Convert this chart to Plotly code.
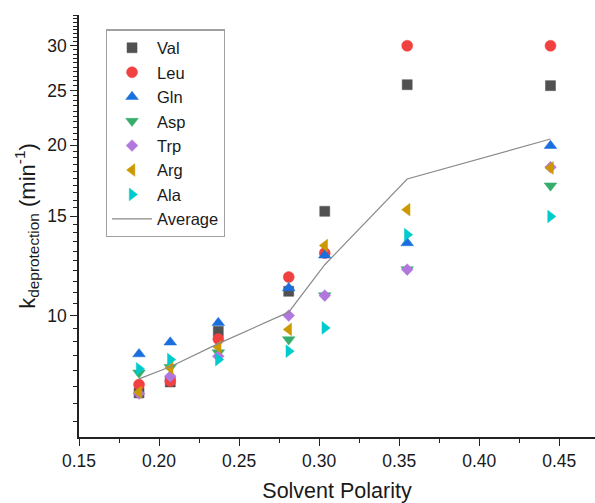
import plotly.graph_objects as go

polarity = [0.1875, 0.207, 0.237, 0.281, 0.3035, 0.355, 0.4445]

series_names = ["Val", "Leu", "Gln", "Asp", "Trp", "Arg", "Ala"]
val = [7.30, 7.63, 9.38, 11.04, 15.29, 25.6, 25.5]
leu = [7.55, 7.66, 9.09, 11.70, 12.90, 30.0, 30.0]
gln = [8.55, 8.97, 9.71, 11.19, 12.78, 13.44, 19.97]
asp = [7.92, 8.10, 8.60, 9.07, 10.85, 12.06, 16.97]
trp = [7.28, 7.81, 8.47, 10.00, 10.85, 12.06, 18.30]
arg = [7.32, 8.08, 8.80, 9.45, 13.30, 15.39, 18.24]
ala = [8.05, 8.36, 8.36, 8.65, 9.51, 13.90, 14.97]
average = [7.73, 8.12, 8.92, 10.14, 12.30, 17.44, 20.52]

colors = ["#515151", "#F14040", "#1A6FDF", "#37AD6B", "#B177DE", "#CC9900", "#00CBCC"]
symbols = ["square", "circle", "triangle-up", "triangle-down", "diamond", "triangle-left", "triangle-right"]
sizes = [10, 11, 11, 11, 9, 11, 11]

y_major = [10, 15, 20, 25, 30]
y_minor = [v / 2 for v in range(13, 69) if (v / 2) not in y_major]
x_major = [0.15, 0.20, 0.25, 0.30, 0.35, 0.40, 0.45]
x_minor = [0.175, 0.225, 0.275, 0.325, 0.375, 0.425]

fig = go.Figure()
for name, ys, c, s, sz in zip(series_names, [val, leu, gln, asp, trp, arg, ala], colors, symbols, sizes):
    fig.add_trace(go.Scatter(
        x=polarity, y=ys, mode="markers", name=name,
        marker=dict(color=c, symbol=s, size=sz, line=dict(width=0.5, color=c)),
    ))
fig.add_trace(go.Scatter(
    x=polarity, y=average, mode="lines", name="Average",
    line=dict(color="#8a8a8a", width=1.2),
))

fig.update_layout(
    width=595, height=503,
    margin=dict(l=79, r=0, t=15, b=66),
    plot_bgcolor="white", paper_bgcolor="white",
    font=dict(family="Liberation Sans, Arial, sans-serif", color="#1a1a1a", size=16),
    legend=dict(
        x=0.052, y=0.966, xanchor="left", yanchor="top",
        bordercolor="#a0a0a0", borderwidth=1.2, bgcolor="white",
        font=dict(size=16.5), itemwidth=40,
    ),
    showlegend=True,
)
fig.update_xaxes(
    range=[0.15, 0.4723],
    tickmode="array", tickvals=x_major, ticktext=[f"{v:.2f}" for v in x_major],
    ticks="outside", ticklen=7, tickwidth=1.3, tickcolor="#222",
    showline=True, linecolor="#222", linewidth=1.5,
    showgrid=False, zeroline=False,
    tickfont=dict(size=17.5),
    minor=dict(tickmode="array", tickvals=x_minor, ticks="outside", ticklen=4, tickwidth=1.2, tickcolor="#222"),
    title=dict(text="Solvent Polarity", font=dict(size=21.5), standoff=18),
)
fig.update_yaxes(
    type="log", range=[0.7853, 1.5315],
    tickmode="array", tickvals=y_major, ticktext=[str(v) for v in y_major],
    ticks="outside", ticklen=7, tickwidth=1.3, tickcolor="#222",
    showline=True, linecolor="#222", linewidth=1.5,
    showgrid=False, zeroline=False,
    tickfont=dict(size=17.5),
    minor=dict(tickmode="array", tickvals=y_minor, ticks="outside", ticklen=4, tickwidth=1.1, tickcolor="#222"),
    title=dict(text="k<sub>deprotection</sub> (min<sup>-1</sup>)", font=dict(size=22), standoff=6),
)

fig.write_html("out.html")
